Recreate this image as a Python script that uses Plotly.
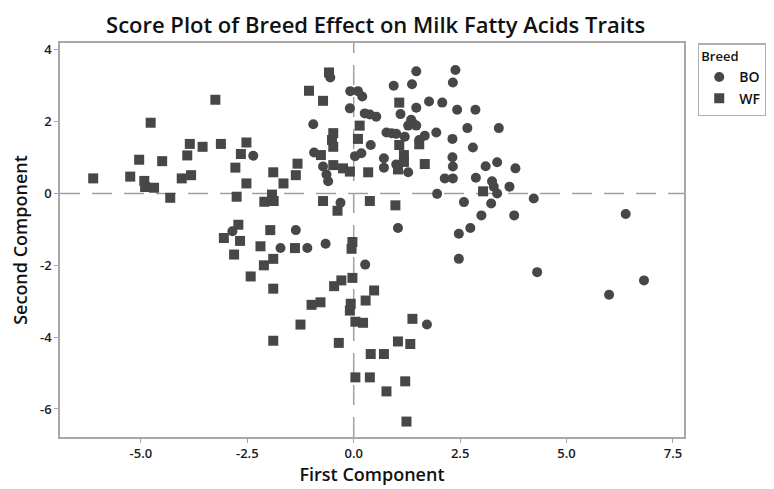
import plotly.graph_objects as go

# BO breed scores (First Component, Second Component)
bo_x = [-0.55, -0.08, 0.10, 0.20, -0.09, 0.26, 0.38, 0.53, -0.95, 0.40, -2.36, -0.93, 0.03, 0.18,
        -0.72, -0.64, -0.60, -0.31, -2.85, -1.36, -1.72, -1.09, -0.66, 0.27, 1.96, 1.04, 2.59, 3.23,
        3.00, 3.77, 2.74, 2.47, 2.47, 1.72, 4.23, 6.39, 4.31, 6.82, 6.00, 3.80, 3.66, 1.47, 2.39,
        0.94, 1.37, 2.33, 1.77, 2.08, 1.47, 2.43, 2.86, 1.10, 1.35, 1.39, 1.47, 1.28, 2.67, 3.41,
        0.77, 0.89, 1.00, 1.20, 1.67, 1.94, 1.54, 2.32, 2.80, 2.32, 2.33, 0.71, 0.71, 1.00, 1.28,
        3.10, 3.37, 2.14, 2.33, 2.87, 3.25, 3.29, 3.37]
bo_y = [3.23, 2.85, 2.85, 2.70, 2.37, 2.23, 2.20, 2.14, 1.93, 1.35, 1.05, 1.14, 1.04, 1.12,
        0.75, 0.53, 0.34, -0.26, -1.05, -1.02, -1.52, -1.52, -1.40, -1.98, -0.01, -0.96, -0.24, -0.28,
        -0.61, -0.61, -0.96, -1.12, -1.82, -3.65, -0.14, -0.57, -2.19, -2.42, -2.82, 0.70, 0.19, 3.40, 3.44,
        3.00, 3.04, 3.09, 2.56, 2.53, 2.39, 2.33, 2.33, 2.21, 2.05, 1.96, 1.89, 1.89, 1.82, 1.82,
        1.70, 1.68, 1.66, 1.58, 1.61, 1.70, 1.49, 1.52, 1.28, 1.01, 0.75, 0.98, 0.72, 0.81, 0.59,
        0.76, 0.87, 0.42, 0.42, 0.44, 0.34, 0.19, 0.00]

# WF breed scores
wf_x = [-6.12, -5.25, -5.04, -4.77, -4.92, -4.90, -4.69, -4.50, -4.31, -4.04, -3.85, -3.91, -3.82,
        -3.55, -3.25, -3.12, -3.05, -2.52, -2.65, -2.78, -2.52, -2.75, -2.10, -1.92, -1.88, -1.89,
        -1.32, -1.36, -1.65, -1.05, -0.72, -0.58, -0.48, -0.51, -0.48, -0.77, -0.48, -0.25, -0.09,
        0.14, 0.10, 0.34, -0.72, -0.38, 0.38, 0.98, -2.71, -1.96, -2.67, -2.81, -2.19, -1.38,
        -1.89, -2.11, -2.42, -1.89, -0.03, -0.05, -0.46, -0.29, -0.03, -0.99, -0.78, -0.07, -0.09,
        0.28, 0.48, 0.04, 0.22, -1.25, -1.89, -0.35, 0.40, 0.71, 0.04, 0.38, 1.21, 0.77, 1.24,
        1.38, 1.04, 1.33, 1.07, 1.54, 1.07, 1.18, 1.18, 1.67, 1.04, 3.04]
wf_y = [0.42, 0.47, 0.94, 1.97, 0.35, 0.18, 0.16, 0.90, -0.12, 0.42, 1.38, 1.06, 0.51,
        1.30, 2.61, 1.38, -1.24, 1.42, 1.10, 0.72, 0.28, -0.09, -0.23, -0.03, -0.21, 0.59,
        0.83, 0.51, 0.28, 2.86, 2.58, 3.37, 1.68, 1.49, 1.30, 1.07, 0.79, 0.70, 0.61,
        1.89, 1.52, 0.59, -0.21, -0.48, -0.21, -0.33, -0.87, -1.02, -1.32, -1.70, -1.47, -1.52,
        -1.82, -2.00, -2.31, -2.65, -1.35, -1.54, -2.58, -2.42, -2.35, -3.10, -3.03, -3.07, -3.26,
        -2.98, -2.70, -3.57, -3.60, -3.65, -4.10, -4.16, -4.47, -4.47, -5.12, -5.12, -5.23, -5.51, -6.35,
        -3.49, -4.12, -4.19, 2.53, 1.37, 1.35, 1.07, 0.88, 0.82, 0.67, 0.06]

x_ticks = [-5.0, -2.5, 0.0, 2.5, 5.0, 7.5]
y_ticks = [-6, -4, -2, 0, 2, 4]

FONT = "Open Sans"
MARK = "#474747"

fig = go.Figure()
fig.add_trace(go.Scatter(x=bo_x, y=bo_y, mode="markers", name="BO",
                         marker=dict(symbol="circle", size=10, color=MARK,
                                     line=dict(width=0))))
fig.add_trace(go.Scatter(x=wf_x, y=wf_y, mode="markers", name="WF",
                         marker=dict(symbol="square", size=10, color=MARK,
                                     line=dict(width=0))))

fig.add_shape(type="line", xref="x", yref="paper", x0=0, x1=0, y0=0, y1=1,
              line=dict(color="#a0a0a0", width=1.5, dash="20px,12px"), layer="below")
fig.add_shape(type="line", xref="paper", yref="y", x0=0, x1=1, y0=0, y1=0,
              line=dict(color="#a0a0a0", width=1.5, dash="20px,12px"), layer="below")

axis_common = dict(showgrid=False, zeroline=False, showline=True, linecolor="#a8a8a8",
                   linewidth=1.5, mirror=True, ticks="outside", ticklen=4, tickcolor="#a8a8a8",
                   tickfont=dict(family=FONT, size=13, color="#1a1a1a", weight=600))

fig.update_layout(
    width=774, height=489,
    paper_bgcolor="white", plot_bgcolor="white",
    margin=dict(l=52, r=98, t=35, b=60),
    title=dict(text="Score Plot of Breed Effect on Milk Fatty Acids Traits",
               x=0.475, xanchor="center", y=0.964, yanchor="middle",
               font=dict(family=FONT, size=22, color="#111111", weight=600)),
    xaxis=dict(range=[-6.9, 7.76], tickvals=x_ticks, ticktext=[f"{v:.1f}" for v in x_ticks],
               title=dict(text="First Component", standoff=2,
                          font=dict(family=FONT, size=18, color="#111111", weight=600)),
               **axis_common),
    yaxis=dict(range=[-6.78, 4.19], tickvals=y_ticks, ticktext=[str(v) for v in y_ticks],
               title=dict(text="Second Component", standoff=8,
                          font=dict(family=FONT, size=18, color="#111111", weight=600)),
               **axis_common),
    legend=dict(x=1.022, xanchor="left", y=1.0, yanchor="top",
                bordercolor="#b0b0b0", borderwidth=1.5, bgcolor="white",
                title=dict(text="Breed", side="top",
                           font=dict(family=FONT, size=13, color="#111111", weight=600)),
                font=dict(family=FONT, size=14, color="#111111", weight=600),
                itemwidth=30),
    showlegend=True,
)

fig.write_html("out.html")
